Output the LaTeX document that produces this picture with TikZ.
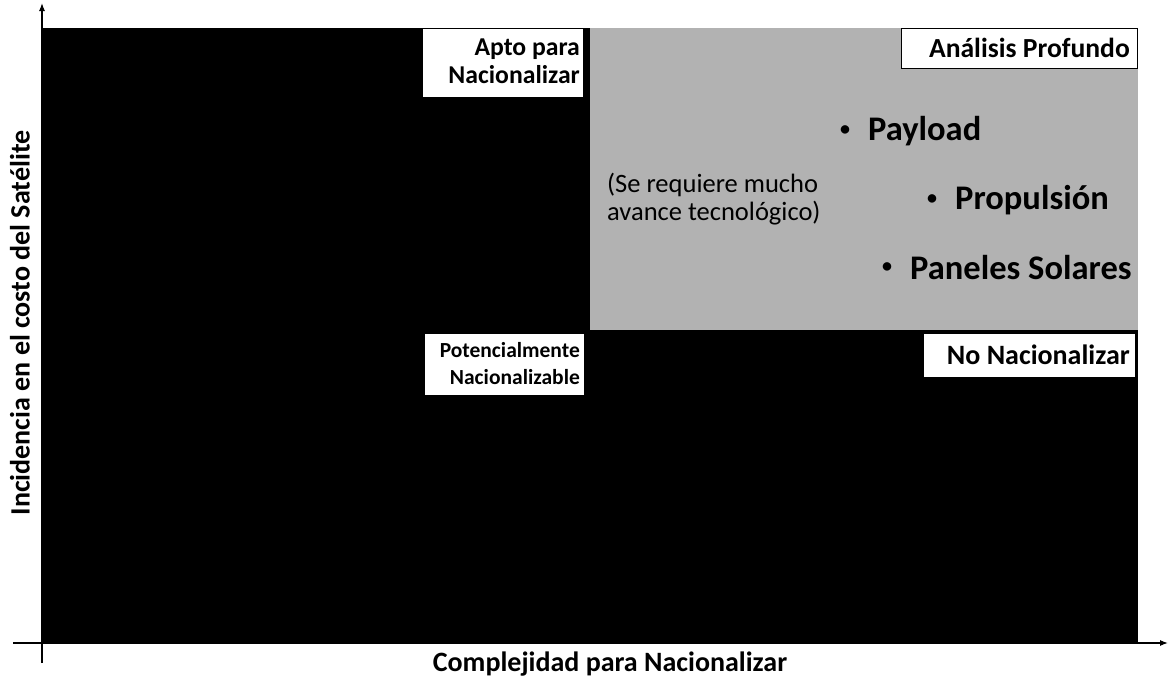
\documentclass[tikz,border=0pt]{standalone}
\usepackage{fontspec}
\setmainfont{Carlito}
\usetikzlibrary{arrows.meta}
\tikzset{
  quad/.style={fill=black,draw=none},
  deep/.style={fill={rgb,255:red,178;green,178;blue,178},draw=none},
  tagbox/.style={fill=white,draw=black,line width=1pt,inner sep=0pt,anchor=north east},
  tagtext/.style={font=\bfseries,align=right,inner sep=0pt,anchor=east},
  item/.style={font=\bfseries\fontsize{34.5}{38}\selectfont,anchor=west,inner sep=0pt},
  dot/.style={font=\bfseries\fontsize{20}{24}\selectfont,anchor=center,inner sep=0pt},
  note/.style={font=\fontsize{26.5}{28}\selectfont,align=left,anchor=west,inner sep=0pt},
  axis/.style={line width=1.2pt,-{Latex[length=8pt,width=6pt]}},
  axlabel/.style={font=\bfseries\fontsize{28}{32}\selectfont,inner sep=0pt}
}
\begin{document}
\begin{tikzpicture}[x=1pt,y=-1pt]
\useasboundingbox (0,0) rectangle (1170,680);
% quadrants
\fill[quad] (42,28) rectangle (1138,643);
\fill[deep] (590,28) rectangle (1138,330);
% axes
\coordinate (yb) at (42,663);
\coordinate (yt) at (42,3);
\coordinate (xl) at (13,643);
\coordinate (xr) at (1168,643);
\draw[axis] (yb) -- (yt);
\draw[axis] (xl) -- (xr);
% axis labels
\node[axlabel,rotate=90] (ylab) at (20,323) {Incidencia en el costo del Satélite};
\node[axlabel] (xlab) at (610,664) {Complejidad para Nacionalizar};
% quadrant tags
\node[tagbox,minimum width=161pt,minimum height=69pt] (aptobox) at (584,28) {};
\node[tagtext,font=\bfseries\fontsize{25.7}{28}\selectfont] (apto) at ([xshift=-4pt,yshift=2pt]aptobox.east) {Apto para\\Nacionalizar};
\node[tagbox,minimum width=236pt,minimum height=40pt] (analbox) at (1138,28) {};
\node[tagtext,font=\bfseries\fontsize{27.6}{30}\selectfont] (anal) at ([xshift=-8pt,yshift=1pt]analbox.east) {Análisis Profundo};
\node[tagbox,minimum width=160pt,minimum height=62pt] (potbox) at (585,333) {};
\node[tagtext,font=\bfseries\fontsize{21.5}{27}\selectfont] (pot) at ([xshift=-5pt,yshift=1pt]potbox.east) {Potencialmente\\Nacionalizable};
\node[tagbox,minimum width=212pt,minimum height=44pt] (nonacbox) at (1136,333) {};
\node[tagtext,font=\bfseries\fontsize{28}{30}\selectfont] (nonac) at ([xshift=-6pt,yshift=1pt]nonacbox.east) {No Nacionalizar};
% items
\node[dot] (payd) at (845,131) {•};
\node[item] (pay) at (868,131) {Payload};
\node[dot] (prod) at (932,200) {•};
\node[item] (pro) at (955,200) {Propulsión};
\node[dot] (pand) at (887,268) {•};
\node[item] (pan) at (910,268) {Paneles Solares};
\node[note] (req) at (607,199) {(Se requiere mucho\\avance tecnológico)};
\end{tikzpicture}
\end{document}
